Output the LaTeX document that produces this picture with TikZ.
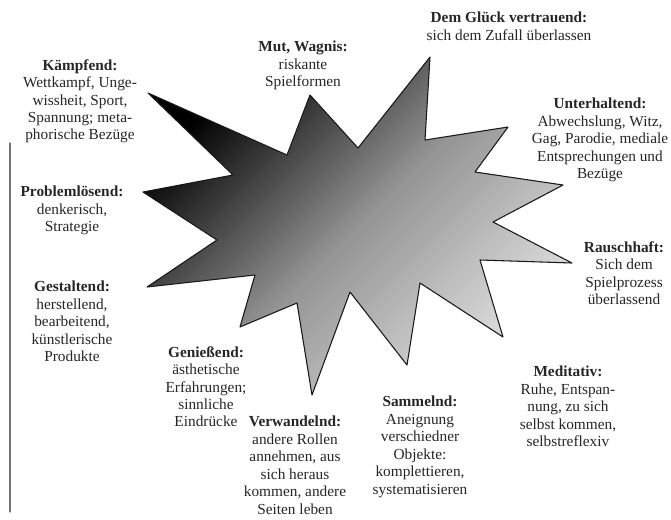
\documentclass[tikz,border=0pt]{standalone}
\usepackage{fontspec}
\setmainfont{Liberation Serif}
\usetikzlibrary{positioning}

\begin{document}
\begin{tikzpicture}[x=0.75pt,y=-0.75pt,line cap=round,line join=round,
  every node/.style={font=\fontsize{11.5}{13.1}\selectfont},
  label/.style={align=center,anchor=north,inner sep=0pt,text=black!85},
  star/.style={draw=black!90,line width=0.8pt}]
  \useasboundingbox (0,0) rectangle (671,519);
  % ---- page edge ---------------------------------------------------------
  \draw[black!55,line width=0.9pt] (10,143) -- (10,512);
  % ---- star --------------------------------------------------------------
  \shade[star,top color=black,bottom color=black!12,middle color=black!42,
    shading angle=45]
    (148,93) -- (287,155) -- (310,95) -- (358,148) -- (430,57)
    -- (425,140) -- (508,127) -- (475,172) -- (563,185) -- (493,222)
    -- (572,263) -- (480,260) -- (503,337) -- (420,283) -- (407,365)
    -- (350,292) -- (312,395) -- (297,303) -- (240,327) -- (255,275)
    -- (147,287) -- (217,240) -- (143,192) -- (233,175) -- cycle;
  % ---- labels ------------------------------------------------------------
  \node[label] (kampf) at (80,59) {\textbf{Kämpfend:}\\Wettkampf, Unge-\\wissheit, Sport,\\Spannung; meta-\\phorische Bezüge};
  \node[label] (mut) at (303,41) {\textbf{Mut, Wagnis:}\\riskante\\Spielformen};
  \node[label] (glueck) at (509,12) {\textbf{Dem Glück vertrauend:}\\sich dem Zufall überlassen};
  \node[label] (unterh) at (600,98) {\textbf{Unterhaltend:}\\Abwechslung, Witz,\\Gag, Parodie, mediale\\Entsprechungen und\\Bezüge};
  \node[label] (rausch) at (624,241) {\textbf{Rauschhaft:}\\Sich dem\\Spielprozess\\überlassend};
  \node[label] (problem) at (72,186) {\textbf{Problemlösend:}\\denkerisch,\\Strategie};
  \node[label] (gestalt) at (72,281) {\textbf{Gestaltend:}\\herstellend,\\bearbeitend,\\künstlerische\\Produkte};
  \node[label] (geniess) at (206,346) {\textbf{Genießend:}\\ästhetische\\Erfahrungen;\\sinnliche\\Eindrücke};
  \node[label] (verwand) at (295,416) {\textbf{Verwandelnd:}\\andere Rollen\\annehmen, aus\\sich heraus\\kommen, andere\\Seiten leben};
  \node[label] (sammel) at (420,396) {\textbf{Sammelnd:}\\Aneignung\\verschiedner\\Objekte:\\komplettieren,\\systematisieren};
  \node[label] (medit) at (568,366) {\textbf{Meditativ:}\\Ruhe, Entspan-\\nung, zu sich\\selbst kommen,\\selbstreflexiv};
\end{tikzpicture}
\end{document}
